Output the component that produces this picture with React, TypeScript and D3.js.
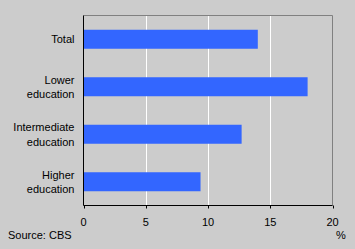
import React from "react";
import * as d3 from "d3";

const categories: string[][] = [["Total"], ["Lower", "education"], ["Intermediate", "education"], ["Higher", "education"]];
const values: number[] = [14.0, 18.0, 12.7, 9.4];
const xTicks: number[] = [0, 5, 10, 15, 20];

const W = 355, H = 249;
const margin = { left: 83.5, right: 22.5, top: 15.5, bottom: 43.5 };

export default function App() {
  const x = d3.scaleLinear().domain([0, 20]).range([margin.left, W - margin.right]);
  const y = d3.scaleBand<number>().domain(categories.map((_, i) => i)).range([margin.top, H - margin.bottom]).paddingInner(0.6).paddingOuter(0.3);
  const font = "Liberation Sans, Arial, sans-serif";
  const x0 = x(0), x1 = x(20), y0 = margin.top, y1 = H - margin.bottom;
  return (
    <svg width={W} height={H} style={{ position: "absolute", left: 0, top: 0 }} fontFamily={font} fontSize={11}>
      <rect x={0} y={0} width={W} height={H} fill="#cccccc" />
      {xTicks.slice(1, -1).map((t) => (
        <line key={t} x1={Math.round(x(t)) + 0.5} x2={Math.round(x(t)) + 0.5} y1={y0} y2={y1} stroke="#ffffff" />
      ))}
      {values.map((v, i) => (
        <rect key={i} x={x0} y={y(i)!} width={x(v) - x0} height={y.bandwidth()} fill="#3366ff" />
      ))}
      <line x1={x0} x2={x1} y1={y0} y2={y0} stroke="#808080" />
      <line x1={x1} x2={x1} y1={y0} y2={y1} stroke="#808080" />
      <line x1={x0} x2={x0} y1={y0} y2={y1} stroke="#000000" />
      <line x1={x0} x2={x1} y1={y1} y2={y1} stroke="#000000" />
      {xTicks.map((t) => (
        <g key={t}>
          <line x1={Math.round(x(t)) + 0.5} x2={Math.round(x(t)) + 0.5} y1={y1} y2={y1 + 3} stroke="#000000" />
          <text x={x(t)} y={y1 + 20} textAnchor="middle" fill="#000">{t}</text>
        </g>
      ))}
      {categories.map((lines, i) => {
        const cy = y(i)! + y.bandwidth() / 2;
        const lh = 14.5;
        const start = cy - ((lines.length - 1) * lh) / 2;
        return (
          <text key={i} x={74.5} textAnchor="end" fill="#000">
            {lines.map((l, j) => (
              <tspan key={j} x={74.5} y={start + j * lh + 4}>{l}</tspan>
            ))}
          </text>
        );
      })}
      <text x={341} y={239} textAnchor="middle" fill="#000">%</text>
      <text x={8} y={239} fill="#000">Source: CBS</text>
    </svg>
  );
}
